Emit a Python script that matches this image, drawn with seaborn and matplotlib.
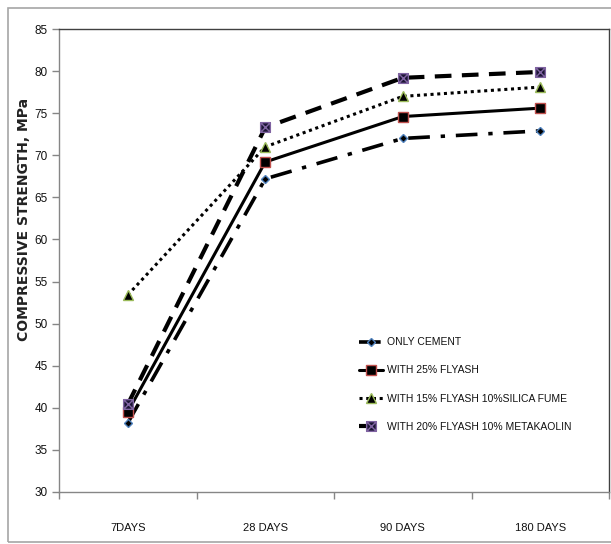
import numpy as np
import pandas as pd
import seaborn as sns
import matplotlib.pyplot as plt
from matplotlib.path import Path
from matplotlib.patches import Rectangle

# data
ages = ['7DAYS', '28 DAYS', '90 DAYS', '180 DAYS']
only_cement = [38.2, 67.2, 72.0, 72.9]
flyash_25 = [39.5, 69.2, 74.6, 75.6]
flyash_silica = [53.4, 71.0, 77.0, 78.1]
flyash_metakaolin = [40.4, 73.3, 79.2, 79.9]

names = ['ONLY CEMENT', 'WITH 25% FLYASH', 'WITH 15% FLYASH 10%SILICA FUME',
         'WITH 20% FLYASH 10% METAKAOLIN']

df = pd.DataFrame({
    'age': ages * 4,
    'strength': only_cement + flyash_25 + flyash_silica + flyash_metakaolin,
    'mix': [n for n in names for _ in ages],
})

sns.set_style('white')
plt.rcParams['font.family'] = ['Liberation Sans', 'DejaVu Sans']
plt.rcParams['text.color'] = '#111111'
plt.rcParams['xtick.color'] = '#111111'
plt.rcParams['ytick.color'] = '#111111'

# square with a cross, like the excel marker
boxx = Path([(-1, -1), (1, -1), (1, 1), (-1, 1), (-1, -1), (-1, -1), (1, 1), (-1, 1), (1, -1)],
            [Path.MOVETO, Path.LINETO, Path.LINETO, Path.LINETO, Path.CLOSEPOLY,
             Path.MOVETO, Path.LINETO, Path.MOVETO, Path.LINETO])

styles = {
    names[0]: dict(marker='D', ms=4.5, mec='#4f81bd', mfc='black', ls=(0, (6, 3, 1.2, 3)), lw=2.6),
    names[1]: dict(marker='s', ms=6.5, mec='#c0504d', mfc='black', ls='-', lw=2.2),
    names[2]: dict(marker='^', ms=6.5, mec='#9bbb59', mfc='black', ls=(0, (1, 1.2)), lw=2.2),
    names[3]: dict(marker=boxx, ms=7, mec='#8064a2', mfc='#1c1535', ls=(0, (4, 2.5)), lw=3.0),
}

fig = plt.figure(figsize=(6.11, 5.44), dpi=100)
ax = fig.add_axes([59 / 611, 52 / 544, 550 / 611, 463 / 544])

for name in names:
    st = styles[name]
    sns.lineplot(data=df[df['mix'] == name], x='age', y='strength', ax=ax,
                 color='black', label=name, marker=st['marker'], markersize=st['ms'],
                 markeredgecolor=st['mec'], markerfacecolor=st['mfc'], markeredgewidth=1,
                 linestyle=st['ls'], linewidth=st['lw'], sort=False)

ax.set_xlim(-0.5, 3.5)
ax.set_ylim(30, 85)
ax.set_yticks(np.arange(30, 86, 5))
ax.tick_params(axis='y', length=5, width=1, color='#868686', labelsize=8.5, pad=3, left=True)

ax.set_xticks([-0.5, 0.5, 1.5, 2.5, 3.5])
ax.set_xticklabels([])
ax.tick_params(axis='x', which='major', length=5, width=1, color='#868686', bottom=True)
ax.set_xticks(range(4), minor=True)
ax.set_xticklabels(ages, minor=True)
ax.tick_params(axis='x', which='minor', length=0, labelsize=8, pad=22)

ax.set_xlabel('')
ax.set_ylabel('COMPRESSIVE STRENGTH, MPa', fontsize=10, fontweight='bold',
              family=['DejaVu Sans'], color='#222222')
ax.yaxis.set_label_coords(-28 / 550, (492 - 219) / 463)

for side in ['left', 'bottom']:
    ax.spines[side].set_color('#868686')
for side in ['top', 'right']:
    ax.spines[side].set_color('#404040')
for sp in ax.spines.values():
    sp.set_linewidth(1)

leg = ax.legend(loc='upper left', bbox_to_anchor=(296 / 550, (492 - 333) / 463),
                frameon=False, fontsize=7.5, handlelength=2.3, labelspacing=1.75,
                handletextpad=0.4, borderaxespad=0)

# outer chart frame
fig.patches.append(Rectangle((8 / 611, 2 / 544), 1.2, 534 / 544, transform=fig.transFigure,
                             fill=False, edgecolor='#a6a6a6', linewidth=1.2))

fig.savefig('out.png', dpi=100)
